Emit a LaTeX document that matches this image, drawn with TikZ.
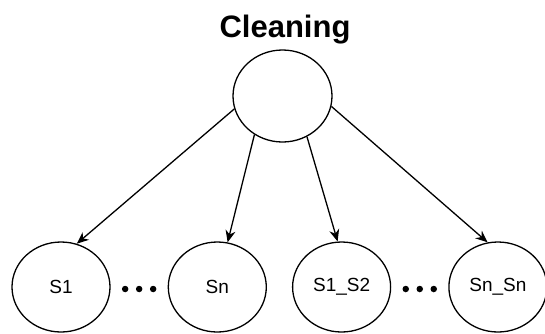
\documentclass[tikz,border=0pt]{standalone}
\usepackage{fontspec}
\setmainfont{Liberation Sans}
\usetikzlibrary{arrows.meta, positioning, calc, shapes.geometric}

\begin{document}
\begin{tikzpicture}[x=1pt, y=-1pt, >={Stealth[length=12pt, width=10pt]},
    state/.style={ellipse, draw, line width=1.3pt, minimum width=98pt, minimum height=90pt, inner sep=0pt, font=\fontsize{19}{19}\selectfont},
    title/.style={font=\fontsize{31}{31}\selectfont\bfseries},
    link/.style={->, line width=1.3pt},
    ellipsisdot/.style={circle, fill, inner sep=0pt, minimum size=6.5pt}]

    \useasboundingbox (0,0) rectangle (545,333);

    % Root state and its title
    \node[title, anchor=base] (title) at (285,37) {Cleaning};
    \node[state, minimum width=99pt, minimum height=92pt] (root) at (282.5,96) {};

    % Split states
    \node[state] (s1) at (61,287) {S1};
    \node[state, right=57pt of s1] (sn) {Sn};
    \node[state, right=25pt of sn] (s1s2) {S1\_S2};
    \node[state, right=57pt of s1s2] (snsn) {Sn\_Sn};

    % Ellipsis between states
    \coordinate (gapa) at ($(s1.east)!0.5!(sn.west)+(0,2)$);
    \coordinate (gapb) at ($(s1s2.east)!0.5!(snsn.west)+(0,2)$);
    \foreach \dx [count=\i] in {-14,0,14} {
        \node[ellipsisdot] (dota\i) at ($(gapa)+(\dx,0)$) {};
        \node[ellipsisdot] (dotb\i) at ($(gapb)+(\dx,0)$) {};
    }

    % Transitions
    \draw[link] (root.195) -- (s1.70);
    \draw[link] (root.234) -- (sn.77);
    \draw[link] (root.301) -- (s1s2.95);
    \draw[link] (root.348) -- (snsn.103);
\end{tikzpicture}
\end{document}
